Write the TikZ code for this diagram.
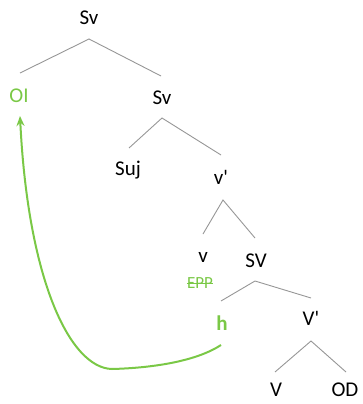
\documentclass[tikz,border=0pt]{standalone}
\usepackage{fontspec}
\setmainfont{Carlito}
\usetikzlibrary{arrows.meta}
\definecolor{lgreen}{RGB}{122,200,70}
\definecolor{lgray}{RGB}{150,150,150}
\newcommand{\apos}{\textquotesingle}
\begin{document}
\begin{tikzpicture}[x=1pt,y=-1pt,
  lab/.style={inner sep=0pt,font=\fontsize{21}{24}\selectfont},
  glab/.style={lab,text=lgreen},
  br/.style={draw=lgray,line width=0.9pt},
  mv/.style={draw=lgreen,line width=2pt,-{Stealth[length=10pt,width=8pt]}}]
\useasboundingbox (0,0) rectangle (362,404);
% nodes
\node[lab] (sv1) at (89,18) {Sv};
\node[glab] (oi) at (19,96) {OI};
\node[lab] (sv2) at (162,98) {Sv};
\node[lab] (suj) at (128,170) {Suj};
\node[lab] (vp) at (221,177) {v\apos};
\node[lab] (v) at (203,257) {v};
\node[lab] (SV) at (256,261) {SV};
\node[glab,font=\fontsize{17}{19}\selectfont] (epp) at (200,283) {EPP};
\draw[lgreen,line width=0.8pt] (epp.west) -- (epp.east);
\node[glab] (h) at (222,323) {\textbf{h}};
\node[lab] (Vp) at (311,318) {V\apos};
\node[lab] (V) at (276,390) {V};
\node[lab] (od) at (345,390) {OD};
% branch coordinates
\coordinate (a1) at (89,39);  \coordinate (e1a) at (20,73);  \coordinate (e1b) at (161,76);
\coordinate (a2) at (162,118); \coordinate (e2a) at (129,148); \coordinate (e2b) at (221,155);
\coordinate (a3) at (223,200); \coordinate (e3a) at (203,234); \coordinate (e3b) at (255,238);
\coordinate (a4) at (255,281); \coordinate (e4a) at (221,301); \coordinate (e4b) at (311,298);
\coordinate (a5) at (311,341); \coordinate (e5a) at (275,372); \coordinate (e5b) at (346,372);
\draw[br] (e1a) -- (a1) -- (e1b);
\draw[br] (e2a) -- (a2) -- (e2b);
\draw[br] (e3a) -- (a3) -- (e3b);
\draw[br] (e4a) -- (a4) -- (e4b);
\draw[br] (e5a) -- (a5) -- (e5b);
% movement arrow
\coordinate (hs) at (221,345);
\coordinate (bot) at (112,369);
\coordinate (oit) at (20,116);
\draw[mv] (hs) .. controls (195,362) and (150,368) .. (bot)
  .. controls (70,368) and (28,280) .. (oit);
\end{tikzpicture}
\end{document}
